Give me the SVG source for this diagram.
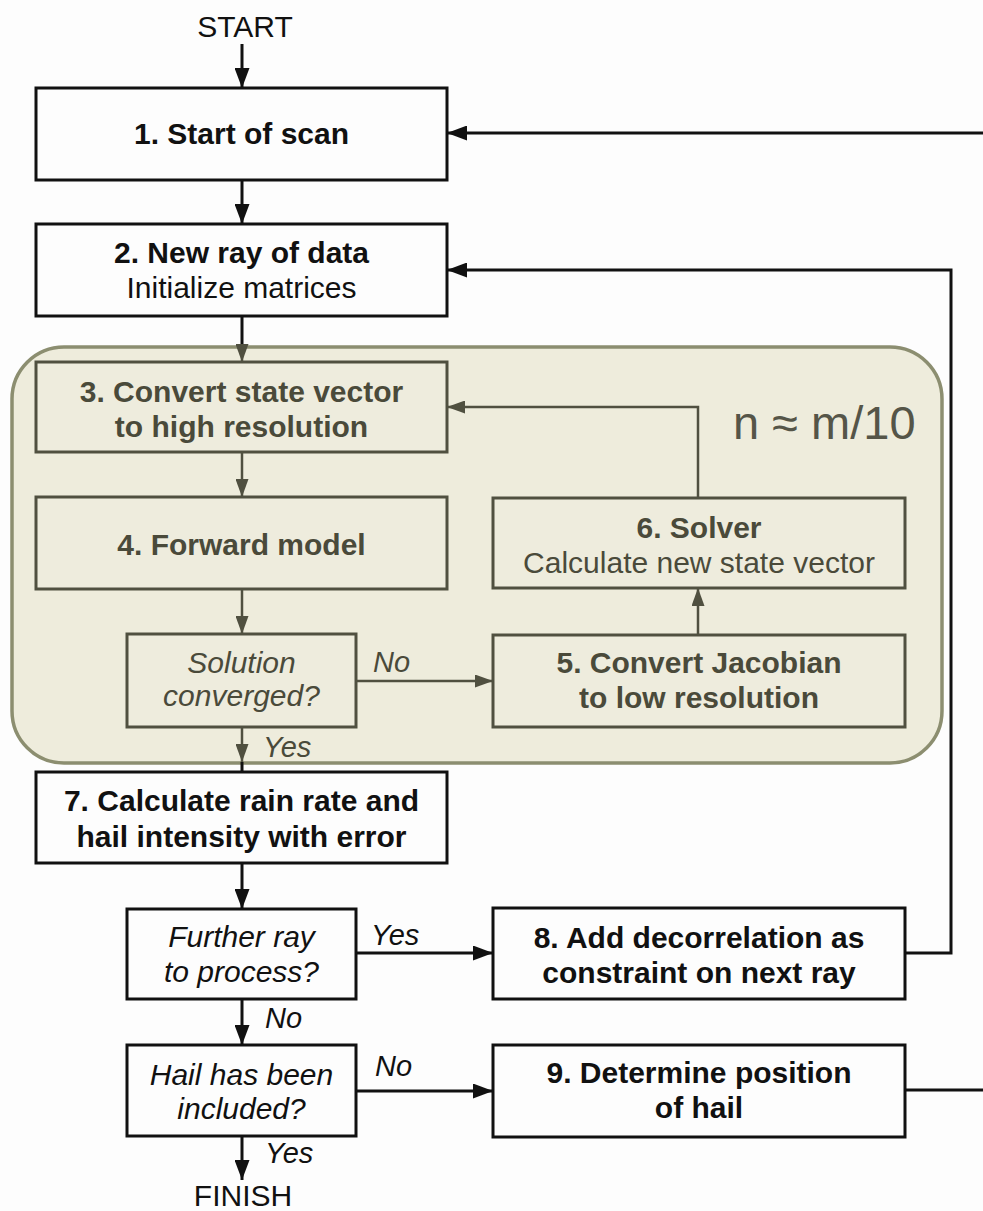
<svg xmlns="http://www.w3.org/2000/svg" width="983" height="1211" viewBox="0 0 983 1211">
<defs>
<style>
.t{font-family:"Liberation Sans",Arial,sans-serif;font-size:30px;text-anchor:middle}
.b{font-weight:bold}
.i{font-style:italic}
.k{fill:#111}
.g{fill:#4a4a3a}
.lab{font-family:"Liberation Sans",Arial,sans-serif;font-size:29px;font-style:italic}
.box{fill:#fdfdfd;stroke:#111;stroke-width:3}
.ibox{fill:#eeecdd;stroke:#505040;stroke-width:3}
.ck{fill:none;stroke:#111;stroke-width:3}
.cg{fill:none;stroke:#505040;stroke-width:2.5}
</style>
<marker id="ak" viewBox="0 0 20 15" refX="20" refY="7.5" markerWidth="20" markerHeight="15" markerUnits="userSpaceOnUse" orient="auto"><path d="M0,0 L20,7.5 L0,15 z" fill="#111"/></marker>
<marker id="ag" viewBox="0 0 18 13" refX="18" refY="6.5" markerWidth="18" markerHeight="13" markerUnits="userSpaceOnUse" orient="auto"><path d="M0,0 L18,6.5 L0,13 z" fill="#505040"/></marker>
</defs>
<rect width="983" height="1211" fill="#fdfdfd"/>

<g id="group-inner">
<rect x="12" y="347" width="930" height="416" rx="52" fill="#eeecdc" stroke="#8c8e70" stroke-width="3.5"/>
<text x="733" y="439" font-family="Liberation Sans,Arial,sans-serif" font-size="47" fill="#555548">n ≈ m/10</text>
</g>

<g id="start"><text class="t k" x="245" y="37">START</text></g>

<g id="n1"><rect class="box" x="36" y="88" width="411" height="92"/>
<text class="t b k" x="241.5" y="144">1. Start of scan</text></g>

<g id="n2"><rect class="box" x="36" y="224" width="411" height="92"/>
<text class="t b k" x="241.5" y="263">2. New ray of data</text>
<text class="t k" x="241.5" y="298">Initialize matrices</text></g>

<g id="n3"><rect class="ibox" x="36" y="362" width="411" height="90"/>
<text class="t b g" x="241.5" y="402">3. Convert state vector</text>
<text class="t b g" x="241.5" y="437">to high resolution</text></g>

<g id="n4"><rect class="ibox" x="36" y="497" width="411" height="92"/>
<text class="t b g" x="241.5" y="555">4. Forward model</text></g>

<g id="d1"><rect class="ibox" x="127" y="634" width="229" height="93"/>
<text class="t i g" x="241.5" y="673">Solution</text>
<text class="t i g" x="241.5" y="706">converged?</text></g>

<g id="n5"><rect class="ibox" x="493" y="635" width="412" height="92"/>
<text class="t b g" x="699" y="673">5. Convert Jacobian</text>
<text class="t b g" x="699" y="708">to low resolution</text></g>

<g id="n6"><rect class="ibox" x="493" y="498" width="412" height="90"/>
<text class="t b g" x="699" y="538">6. Solver</text>
<text class="t g" x="699" y="573">Calculate new state vector</text></g>

<g id="n7"><rect class="box" x="36" y="772" width="411" height="91"/>
<text class="t b k" x="241.5" y="811">7. Calculate rain rate and</text>
<text class="t b k" x="241.5" y="847">hail intensity with error</text></g>

<g id="d2"><rect class="box" x="127" y="909" width="229" height="90"/>
<text class="t i k" x="241.5" y="947">Further ray</text>
<text class="t i k" x="241.5" y="982">to process?</text></g>

<g id="n8"><rect class="box" x="493" y="908" width="412" height="91"/>
<text class="t b k" x="699" y="948">8. Add decorrelation as</text>
<text class="t b k" x="699" y="983">constraint on next ray</text></g>

<g id="d3"><rect class="box" x="127" y="1045" width="229" height="91"/>
<text class="t i k" x="241.5" y="1085">Hail has been</text>
<text class="t i k" x="241.5" y="1119">included?</text></g>

<g id="n9"><rect class="box" x="493" y="1045" width="412" height="92"/>
<text class="t b k" x="699" y="1083">9. Determine position</text>
<text class="t b k" x="699" y="1118">of hail</text></g>

<g id="finish"><text class="t k" x="243" y="1206">FINISH</text></g>

<g id="connectors">
<line class="ck" x1="242" y1="44" x2="242" y2="88" marker-end="url(#ak)"/>
<line class="ck" x1="242" y1="180" x2="242" y2="224" marker-end="url(#ak)"/>
<line class="ck" x1="242" y1="316" x2="242" y2="348"/>
<line class="cg" x1="242" y1="344" x2="242" y2="362" marker-end="url(#ag)"/>
<line class="cg" x1="242" y1="452" x2="242" y2="497" marker-end="url(#ag)"/>
<line class="cg" x1="242" y1="589" x2="242" y2="634" marker-end="url(#ag)"/>
<line class="cg" x1="356" y1="681" x2="493" y2="681" marker-end="url(#ag)"/>
<line class="cg" x1="698" y1="635" x2="698" y2="588" marker-end="url(#ag)"/>
<polyline class="cg" points="698,498 698,407 447,407" marker-end="url(#ag)"/>
<line class="cg" x1="242" y1="727" x2="242" y2="762" marker-end="url(#ag)"/>
<line class="ck" x1="242" y1="762" x2="242" y2="772"/>
<line class="ck" x1="242" y1="863" x2="242" y2="909" marker-end="url(#ak)"/>
<line class="ck" x1="356" y1="953" x2="493" y2="953" marker-end="url(#ak)"/>
<polyline class="ck" points="905,953 951,953 951,270 447,270" marker-end="url(#ak)"/>
<line class="ck" x1="242" y1="999" x2="242" y2="1045" marker-end="url(#ak)"/>
<line class="ck" x1="356" y1="1091" x2="493" y2="1091" marker-end="url(#ak)"/>
<line class="ck" x1="905" y1="1090" x2="983" y2="1090"/>
<line class="ck" x1="983" y1="133" x2="447" y2="133" marker-end="url(#ak)"/>
<line class="ck" x1="242" y1="1136" x2="242" y2="1180" marker-end="url(#ak)"/>
<text class="lab g" x="373" y="672">No</text>
<text class="lab g" x="263" y="757">Yes</text>
<text class="lab k" x="371" y="945">Yes</text>
<text class="lab k" x="265" y="1028">No</text>
<text class="lab k" x="375" y="1076">No</text>
<text class="lab k" x="265" y="1163">Yes</text>
</g>
</svg>
